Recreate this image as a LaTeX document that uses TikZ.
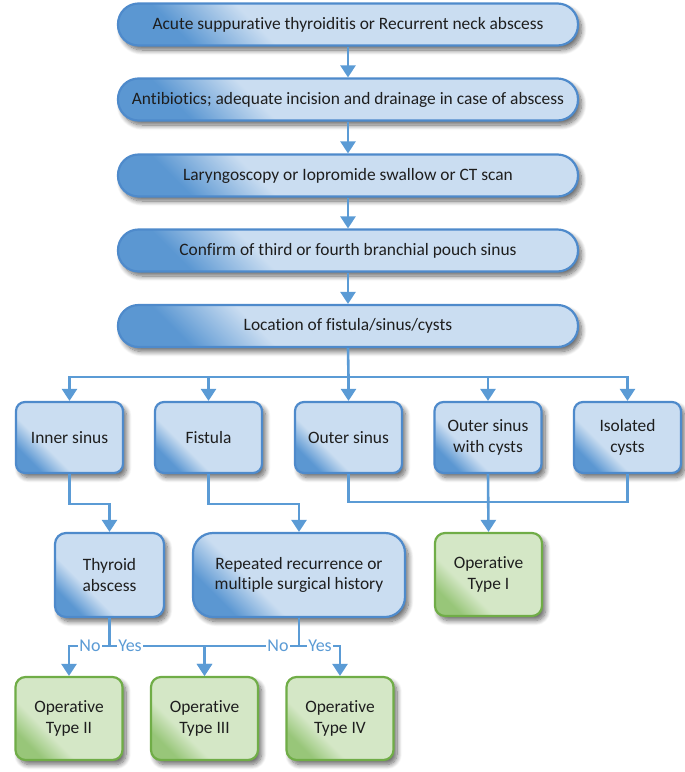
\documentclass[tikz,border=0pt]{standalone}
\usepackage{fontspec}
\setmainfont{Carlito}[Ligatures=CommonOff]
\usetikzlibrary{arrows.meta,shadows.blur}
\definecolor{arrowc}{HTML}{5B9BD5}
\definecolor{bborder}{HTML}{4E8ACB}
\definecolor{blight}{HTML}{CADDF1}
\definecolor{bdark}{HTML}{5B97D2}
\definecolor{gborder}{HTML}{70AD47}
\definecolor{glight}{HTML}{D4E7C6}
\definecolor{gdark}{HTML}{98C679}
\definecolor{txt}{HTML}{1E1E1E}
\pgfdeclarehorizontalshading{bgrad}{100bp}{color(0bp)=(bdark); color(25bp)=(bdark); color(37bp)=(blight); color(100bp)=(blight)}
\pgfdeclarehorizontalshading{ggrad}{100bp}{color(0bp)=(gdark); color(25bp)=(gdark); color(37bp)=(glight); color(100bp)=(glight)}
\tikzset{
  base/.style={line width=2.2pt, text=txt, align=center, inner sep=0pt,
    font=\fontsize{17.4}{20.7}\selectfont, shade, shading angle=45,
    blur shadow={shadow xshift=3.5pt, shadow yshift=-4.5pt, shadow blur radius=5pt, shadow blur steps=10, shadow opacity=60}},
  bluebox/.style={base, draw=bborder, shading=bgrad},
  greenbox/.style={base, draw=gborder, shading=ggrad},
  pill/.style={bluebox, rounded corners=20.5pt, minimum width=460pt, minimum height=42pt},
  smallbox/.style={bluebox, rounded corners=9pt, minimum width=107pt, minimum height=71pt},
  midbox/.style={bluebox, rounded corners=11pt, minimum height=84pt},
  opbox/.style={greenbox, rounded corners=10pt, minimum width=107pt, minimum height=83pt},
  conn/.style={draw=arrowc, line width=2.6pt},
  arr/.style={conn, -{Triangle[width=15pt,length=12pt]}},
  lbl/.style={fill=white, text=arrowc, inner sep=1pt, font=\fontsize{18}{18}\selectfont}
}
\begin{document}
\begin{tikzpicture}[x=1pt,y=-1pt]
\useasboundingbox (0,0) rectangle (685,772);
% top column
\node[pill] (b1) at (348,24.5) {Acute suppurative thyroiditis or Recurrent neck abscess};
\node[pill] (b2) at (348,99.5) {Antibiotics; adequate incision and drainage in case of abscess};
\node[pill] (b3) at (348,175.5) {Laryngoscopy or Iopromide swallow or CT scan};
\node[pill] (b4) at (348,250.5) {Confirm of third or fourth branchial pouch sinus};
\node[pill] (b5) at (348,326) {Location of fistula/sinus/cysts};
% five boxes
\node[smallbox] (s1) at (69.5,437.5) {Inner sinus};
\node[smallbox] (s2) at (208.5,437.5) {Fistula};
\node[smallbox] (s3) at (348.5,437.5) {Outer sinus};
\node[smallbox] (s4) at (488,437.5) {Outer sinus\\with cysts};
\node[smallbox] (s5) at (627.5,437.5) {Isolated\\cysts};
% middle row
\node[midbox, minimum width=109pt] (thy) at (109.5,575) {Thyroid\\abscess};
\node[midbox, minimum width=212pt, rounded corners=20pt] (rep) at (299,575) {Repeated recurrence or\\multiple surgical history};
\node[opbox] (t1) at (488.5,574.5) {Operative\\Type I};
% bottom row
\node[opbox] (t2) at (69,718.5) {Operative\\Type II};
\node[opbox] (t3) at (204.5,718.5) {Operative\\Type III};
\node[opbox] (t4) at (340,718.5) {Operative\\Type IV};
% chain
\draw[arr] (b1) -- (b2);
\draw[arr] (b2) -- (b3);
\draw[arr] (b3) -- (b4);
\draw[arr] (b4) -- (b5);
\coordinate (dist) at (348.5,377);
\draw[conn] (b5.south) -- (dist);
\draw[arr] (dist) -| (s1.north);
\draw[arr] (dist) -| (s2.north);
\draw[arr] (dist) -- (s3.north);
\draw[arr] (dist) -| (s4.north);
\draw[arr] (dist) -| (s5.north);
% to middle row
\draw[arr] (s1.south) -- ++(0,30) -| (thy.north);
\draw[arr] (s2.south) -- ++(0,30) -| (rep.north);
\coordinate (j1) at (488,502);
\draw[conn] (s3.south) |- (j1);
\draw[conn] (s5.south) |- (j1);
\draw[arr] (s4.south) -- (t1.north);
% decisions
\coordinate (tj) at (109.5,646);
\coordinate (rj) at (299,646);
\draw[conn] (thy.south) -- (tj);
\draw[conn] (rep.south) -- (rj);
\draw[arr] (tj) -| (t2.north);
\draw[arr] (tj) -| (t3.north);
\draw[arr] (rj) -| (t3.north);
\draw[arr] (rj) -| (t4.north);
\node[lbl] (no1) at (90,646) {No};
\node[lbl] (yes1) at (130,646) {Yes};
\node[lbl] (no2) at (278,646) {No};
\node[lbl] (yes2) at (320,646) {Yes};
\end{tikzpicture}
\end{document}
